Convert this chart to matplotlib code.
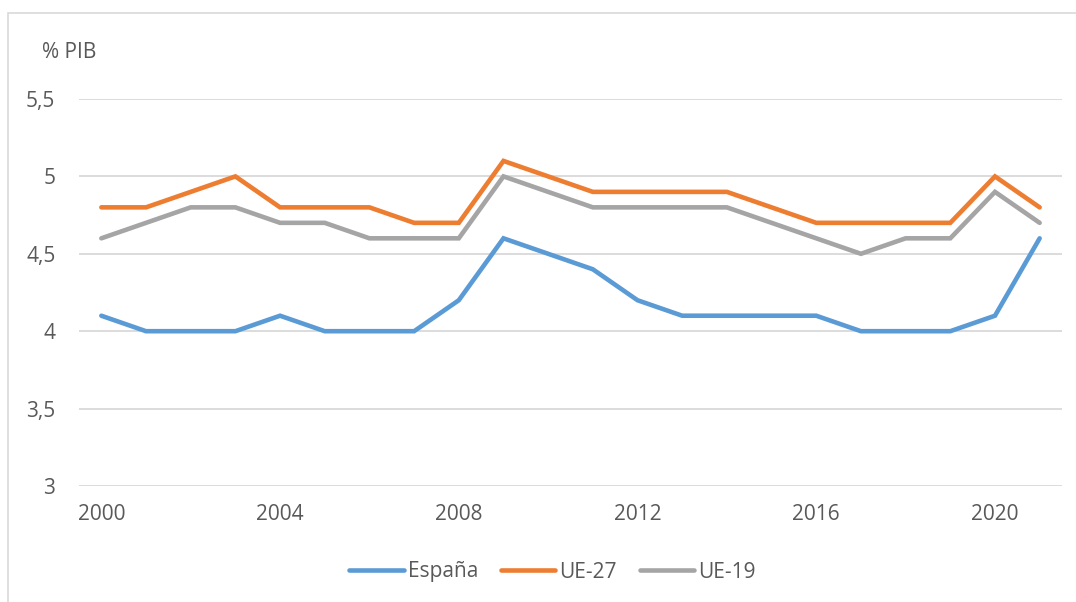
import matplotlib.pyplot as plt
from matplotlib.patches import Rectangle
from matplotlib.ticker import FuncFormatter

plt.rcParams['font.family'] = ['Open Sans', 'DejaVu Sans']

# Datos (% del PIB)
years = list(range(2000, 2022))
espana = [4.1, 4.0, 4.0, 4.0, 4.1, 4.0, 4.0, 4.0, 4.2, 4.6, 4.5,
          4.4, 4.2, 4.1, 4.1, 4.1, 4.1, 4.0, 4.0, 4.0, 4.1, 4.6]
ue27 = [4.8, 4.8, 4.9, 5.0, 4.8, 4.8, 4.8, 4.7, 4.7, 5.1, 5.0,
        4.9, 4.9, 4.9, 4.9, 4.8, 4.7, 4.7, 4.7, 4.7, 5.0, 4.8]
ue19 = [4.6, 4.7, 4.8, 4.8, 4.7, 4.7, 4.6, 4.6, 4.6, 5.0, 4.9,
        4.8, 4.8, 4.8, 4.8, 4.7, 4.6, 4.5, 4.6, 4.6, 4.9, 4.7]
series = ["España", "UE-27", "UE-19"]
colores = ["#5B9BD5", "#ED7D31", "#A5A5A5"]
texto = "#595959"

W, H = 1076, 602
fig = plt.figure(figsize=(W / 100, H / 100), dpi=100)
ax = fig.add_axes([79 / W, 1 - 486 / H, (1062 - 79) / W, (486 - 99) / H])

for datos, nombre, c in zip([espana, ue27, ue19], series, colores):
    ax.plot(years, datos, color=c, lw=3.3, label=nombre,
            solid_capstyle="round", solid_joinstyle="miter")

ax.set_xlim(1999.5, 2021.5)
ax.set_ylim(3, 5.5)
ax.set_yticks([3, 3.5, 4, 4.5, 5, 5.5])
ax.yaxis.set_major_formatter(FuncFormatter(lambda v, p: f"{v:g}".replace(".", ",")))
ax.set_xticks([2000, 2004, 2008, 2012, 2016, 2020])

ax.grid(axis="y", color="#D9D9D9", lw=1.3)
ax.set_axisbelow(True)
for s in ax.spines.values():
    s.set_visible(False)
ax.tick_params(length=0, labelsize=15, labelcolor=texto)
ax.tick_params(axis="y", pad=17)
ax.tick_params(axis="x", pad=13)

fig.text(42 / W, 1 - 52 / H, "% PIB", ha="left", va="center",
         fontsize=15, color=texto)

fig.legend(loc="center", bbox_to_anchor=(0.5135, 1 - 572 / H), ncol=3,
           frameon=False, fontsize=15, labelcolor=texto,
           handlelength=2.6, handletextpad=0.2, columnspacing=1.1)

# Marco del gráfico
fig.patches.append(Rectangle((8 / W, -0.1), 1.2, 1 - 13 / H + 0.1,
                             transform=fig.transFigure, fill=False,
                             edgecolor="#D9D9D9", lw=1.2))

fig.savefig("out.png", dpi=100)
